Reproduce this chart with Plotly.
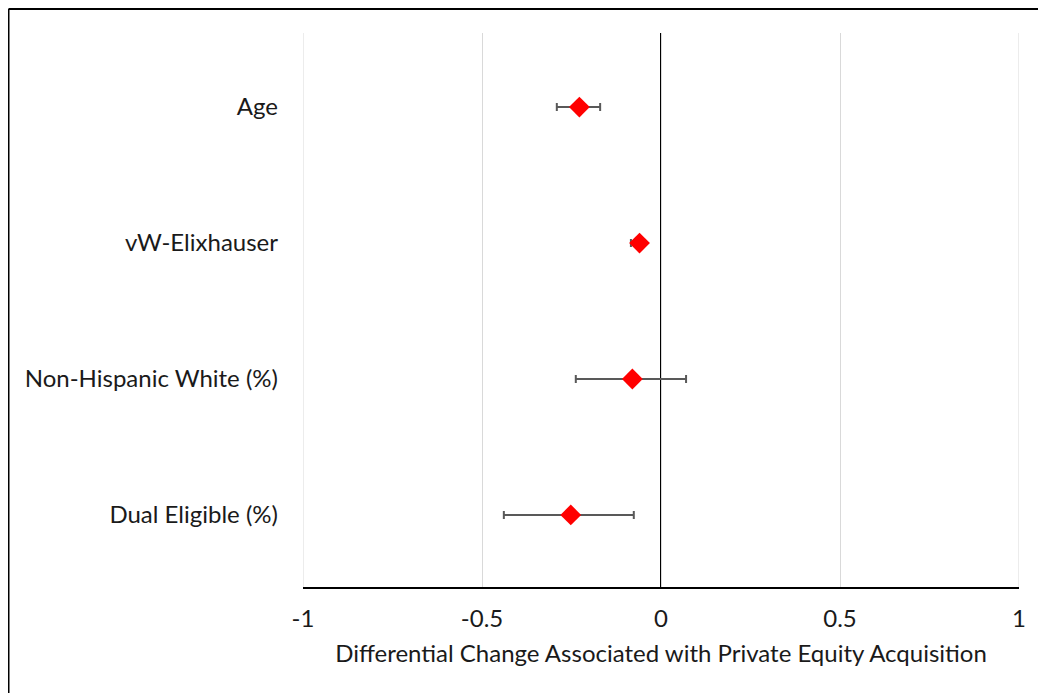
import plotly.graph_objects as go

categories = ["Age", "vW-Elixhauser", "Non-Hispanic White (%)", "Dual Eligible (%)"]
estimates = [-0.228, -0.060, -0.080, -0.252]
ci_low = [-0.291, -0.084, -0.238, -0.439]
ci_high = [-0.170, -0.045, 0.070, -0.076]
y_pos = [4, 3, 2, 1]
x_ticks = [-1, -0.5, 0, 0.5, 1]
x_tick_text = ["-1", "-0.5", "0", "0.5", "1"]
x_title = "Differential Change Associated with Private Equity Acquisition"

err_plus = [h - e for h, e in zip(ci_high, estimates)]
err_minus = [e - l for e, l in zip(estimates, ci_low)]

# page body adds an 8px margin; figure sized to fit the window
W, H = 1038, 685
ml, mr, mt, mb = 295, 27, 25, 106
font_family = "Lato, Open Sans, sans-serif"
txt_color = "#1a1a1a"

fig = go.Figure()
fig.add_trace(go.Scatter(
    x=estimates, y=y_pos, mode="markers",
    marker=dict(symbol="diamond", size=16, color="#ff0000", line=dict(width=0)),
    error_x=dict(type="data", symmetric=False, array=err_plus, arrayminus=err_minus,
                 color="#595959", thickness=2, width=4),
    showlegend=False, hoverinfo="skip",
))

# edge gridlines at -1 and 1
for xv in (x_ticks[0], x_ticks[-1]):
    fig.add_shape(type="line", xref="x", yref="paper", x0=xv, x1=xv, y0=0, y1=1,
                  line=dict(color="#d9d9d9", width=1), layer="below")

# zero reference line
fig.add_shape(type="line", xref="x", yref="paper", x0=0, x1=0, y0=0, y1=1,
              line=dict(color="black", width=2), layer="below")

# outer chart frame: only top and left edges are visible in the window
pw = W - ml - mr
ph = H - mt - mb
def px_to_paper_x(px):
    return (px - ml) / pw
def px_to_paper_y(py):
    return (H - mb - py) / ph
fx0, fy0 = px_to_paper_x(0.5), px_to_paper_y(1)
fig.add_shape(type="line", xref="paper", yref="paper",
              x0=fx0, x1=px_to_paper_x(W), y0=fy0, y1=fy0,
              line=dict(color="black", width=2), layer="above")
fig.add_shape(type="line", xref="paper", yref="paper",
              x0=fx0, x1=fx0, y0=fy0, y1=px_to_paper_y(H),
              line=dict(color="black", width=2), layer="above")

fig.update_xaxes(
    range=[-1, 1], tickvals=x_ticks, ticktext=x_tick_text,
    showgrid=True, gridcolor="#d9d9d9", gridwidth=1, zeroline=False,
    showline=True, linecolor="black", linewidth=2,
    ticks="", ticklabelstandoff=9,
    tickfont=dict(family=font_family, size=24, color=txt_color),
    title=dict(text=x_title, font=dict(family=font_family, size=24, color=txt_color), standoff=14),
)
fig.update_yaxes(
    range=[0.47, 4.545], tickvals=y_pos, ticktext=categories,
    showgrid=False, zeroline=False, showline=False, ticks="",
    ticklabelstandoff=24,
    tickfont=dict(family=font_family, size=24, color=txt_color),
)
fig.update_layout(
    width=W, height=H,
    margin=dict(l=ml, r=mr, t=mt, b=mb),
    plot_bgcolor="white", paper_bgcolor="white",
)
fig.write_html("out.html")
